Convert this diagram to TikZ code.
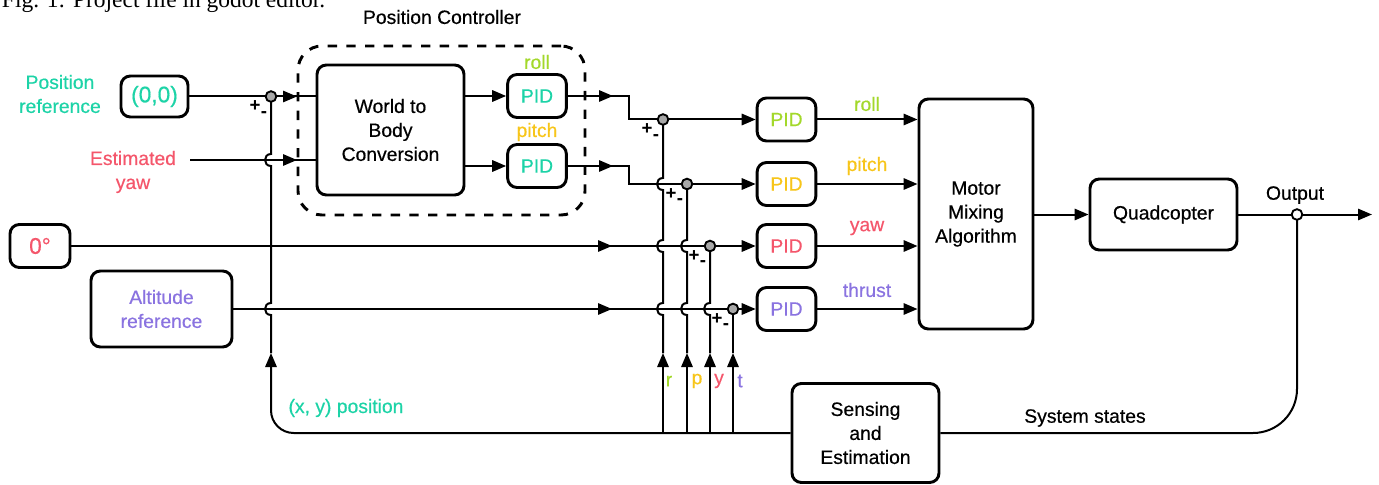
\documentclass[tikz,border=0pt]{standalone}
\usepackage{fontspec}
\setmainfont{Liberation Sans}[UprightFeatures={FakeBold=0.5}]
\newfontfamily\capfont{Liberation Serif}
\usetikzlibrary{arrows.meta}

\definecolor{cteal}{RGB}{29,211,167}
\definecolor{croll}{RGB}{163,216,43}
\definecolor{cpitch}{RGB}{247,197,26}
\definecolor{cyaw}{RGB}{244,86,107}
\definecolor{cthr}{RGB}{138,115,224}
\definecolor{cjunc}{RGB}{168,168,168}

\newcommand{\mainfs}{\fontsize{14.5}{18}\selectfont}
\newcommand{\bigfs}{\fontsize{17}{20}\selectfont}
\newcommand{\signfs}{\fontsize{14}{14}\selectfont\bfseries}
% vertical wire running upwards that hops (to the left) over a horizontal wire at height #2
\newcommand{\hopup}[2]{-- (#1,{#2+6}) .. controls ({#1-8},{#2+6}) and ({#1-8},{#2-6}) .. (#1,{#2-6})}

\begin{document}
\begin{tikzpicture}[x=0.75pt, y=-0.75pt, line width=1.5pt,
  arr/.style={-{Triangle[length=10.5pt,width=8.5pt]}},
  box/.style={draw, line width=2.2pt, rounded corners=7pt, align=center, inner sep=0pt, font=\mainfs},
  pidbox/.style={box, minimum width=44pt, minimum height=32.25pt},
  lbl/.style={inner sep=0pt, font=\mainfs, align=center},
  sign/.style={inner sep=0pt, font=\signfs},
  junc/.style={circle, draw, line width=1.4pt, fill=cjunc, inner sep=0pt, minimum size=8pt}]

\useasboundingbox (0,0) rectangle (1379,485);

% caption of the preceding figure, cut by the page edge
\node[anchor=base west, inner sep=0pt, font=\capfont\fontsize{17.6}{17.6}\selectfont] (cap) at (1,8) {Fig. 1: Project file in godot editor.};

% position controller frame
\node[draw, dash pattern=on 7pt off 7pt, line width=2.2pt, rounded corners=18pt,
      minimum width=215.25pt, minimum height=126.75pt, inner sep=0pt] (pc) at (441.5,130.5) {};
\node[lbl] (ttl) at (442,17) {Position Controller};

% blocks
\node[box, minimum width=110.25pt, minimum height=97.5pt] (world) at (390.5,130) {World to\\Body\\Conversion};
\node[pidbox, text=cteal] (pidRi) at (537,96) {PID};
\node[pidbox, text=cteal] (pidPi) at (537,166) {PID};
\node[box, minimum width=50.25pt, minimum height=30.75pt, font=\bigfs, text=cteal] (ref00) at (154.5,96.5) {(0,0)};
\node[box, minimum width=45pt, minimum height=32.25pt, font=\bigfs, text=cyaw] (zero) at (40,246) {0°};
\node[box, minimum width=105.75pt, minimum height=57pt, text=cthr] (alt) at (161.5,309) {Altitude\\reference};
\node[pidbox, text=croll] (pidR) at (786.5,119.5) {PID};
\node[pidbox, text=cpitch] (pidP) at (786.5,184) {PID};
\node[pidbox, text=cyaw] (pidY) at (786.5,246) {PID};
\node[pidbox, text=cthr] (pidT) at (786.5,309) {PID};
\node[box, minimum width=85.5pt, minimum height=172.5pt] (motor) at (976,214) {Motor\\Mixing\\Algorithm};
\node[box, minimum width=110.25pt, minimum height=53.25pt] (quad) at (1163.5,214.5) {Quadcopter};
\node[box, minimum width=110.25pt, minimum height=74.25pt] (sense) at (865.5,433) {Sensing\\and\\Estimation};

% labels
\node[lbl, text=cteal] (lpos) at (60,94) {Position\\reference};
\node[lbl, text=cyaw] (lyaw) at (133,172) {Estimated\\yaw};
\node[lbl, text=croll] (lrolli) at (537,62) {roll};
\node[lbl, text=cpitch] (lpitchi) at (537,132) {pitch};
\node[lbl, text=croll] (lroll) at (867,104) {roll};
\node[lbl, text=cpitch] (lpitch) at (867,166) {pitch};
\node[lbl, text=cyaw] (lyawo) at (867,228) {yaw};
\node[lbl, text=cthr] (lthr) at (867,290) {thrust};
\node[lbl] (lout) at (1295,195) {Output};
\node[lbl] (lsys) at (1085,418) {System states};
\node[lbl, text=cteal] (lxy) at (346,408) {(x, y) position};
\node[lbl, text=croll] (lr) at (669,381) {r};
\node[lbl, text=cpitch] (lp) at (697,381) {p};
\node[lbl, text=cyaw] (ly) at (719,381) {y};
\node[lbl, text=cthr] (lt) at (740,381) {t};

% junction points
\coordinate (j0) at (271,96.5);
\coordinate (jR) at (663,119.5);
\coordinate (jP) at (687,184);
\coordinate (jY) at (710,246);
\coordinate (jT) at (733,309);
\coordinate (jO) at (1297,214.5);
\coordinate (eyaw) at (190,160);
\coordinate (out) at (1372,214.5);

% position reference and estimated yaw into the conversion block
\draw (ref00.east) -- (j0) -- (world.west |- j0);
\draw[arr] (j0) -- (297,96.5);
\draw (eyaw) -- (world.west |- eyaw);
\draw[arr] (eyaw) -- (297,160);

% conversion block to the position PIDs
\draw[arr] (world.east |- pidRi) -- (pidRi.west);
\draw[arr] (world.east |- pidPi) -- (pidPi.west);

% position PID outputs become roll / pitch set points
\draw (pidRi.east) -- (629,96) -- (629,119.5) -- (jR);
\draw[arr] (pidRi.east) -- (613,96);
\draw[arr] (jR) -- (pidR.west);
\draw (pidPi.east) -- (629,166) -- (629,184) -- (jP);
\draw[arr] (pidPi.east) -- (613,166);
\draw[arr] (jP) -- (pidP.west);

% yaw and altitude set points
\draw (zero.east) -- (jY);
\draw[arr] (zero.east) -- (612,246);
\draw[arr] (jY) -- (pidY.west);
\draw (alt.east) -- (jT);
\draw[arr] (alt.east) -- (612,309);
\draw[arr] (jT) -- (pidT.west);

% attitude PIDs into the mixer
\draw[arr] (pidR.east) -- (motor.west |- pidR);
\draw[arr] (pidP.east) -- (motor.west |- pidP);
\draw[arr] (pidY.east) -- (motor.west |- pidY);
\draw[arr] (pidT.east) -- (motor.west |- pidT);

% plant and output
\draw[arr] (motor.east |- quad) -- (quad.west);
\draw[arr] (quad.east) -- (out);

% feedback path
\draw[rounded corners=33pt] (jO) |- (sense.east);
\draw[arr, rounded corners=17pt] (sense.west) -| (271,353);
\draw (271,353) \hopup{271}{309} \hopup{271}{160} -- (j0);

\draw[arr] (663,433) -- (663,353);
\draw (663,353) \hopup{663}{309} \hopup{663}{246} \hopup{663}{184} -- (jR);
\draw[arr] (687,433) -- (687,353);
\draw (687,353) \hopup{687}{309} \hopup{687}{246} -- (jP);
\draw[arr] (710,433) -- (710,353);
\draw (710,353) \hopup{710}{309} -- (jY);
\draw[arr] (733,433) -- (733,353);
\draw (733,353) -- (jT);

% summing signs
\foreach \j in {j0,jR,jP,jY,jT}{
  \node[sign] at ([shift={(-16,10)}]\j) {+};
  \node[sign] at ([shift={(-7,18)}]\j) {-};
}

% junction markers
\node[junc] (c0) at (j0) {};
\node[junc] (cR) at (jR) {};
\node[junc] (cP) at (jP) {};
\node[junc] (cY) at (jY) {};
\node[junc] (cT) at (jT) {};
\node[junc, fill=white] (cO) at (jO) {};
\end{tikzpicture}
\end{document}
